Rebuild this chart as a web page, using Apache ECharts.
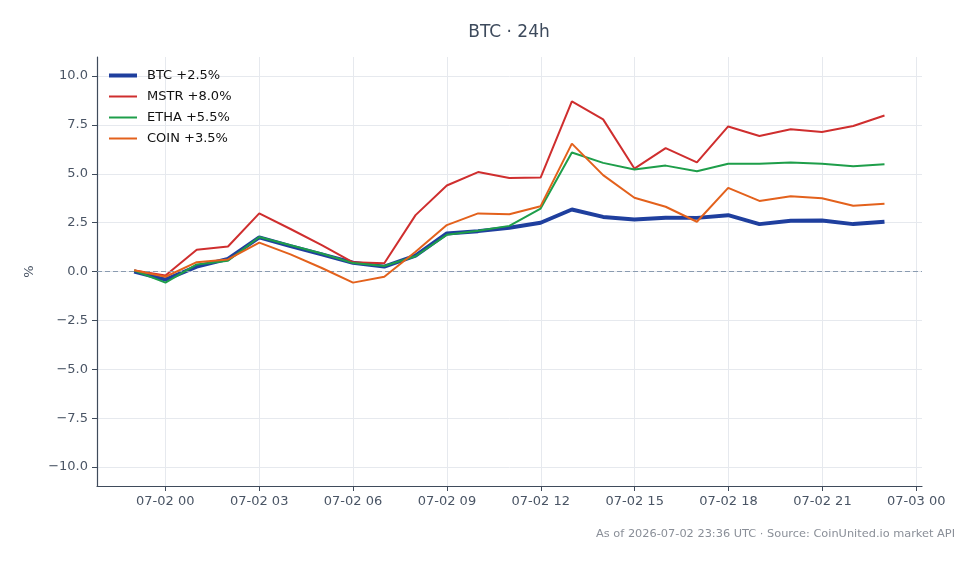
<!DOCTYPE html>
<html>
<head>
<meta charset="utf-8">
<script src="https://cdn.jsdelivr.net/npm/echarts@6/dist/echarts.min.js"></script>
<style>
  html, body { margin: 0; padding: 0; background: #fff; }
  #chart { width: 978px; height: 564px; }
</style>
</head>
<body>
<div id="chart"></div>
<script>
// hourly points, hours relative to 07-02 00:00 UTC
const hours = [-1, 0, 1, 2, 3, 4, 5, 6, 7, 8, 9, 10, 11, 12, 13, 14, 15, 16, 17, 18, 19, 20, 21, 22, 23]
const btc  = [0, -0.42, 0.25, 0.65, 1.75, 1.3, 0.88, 0.45, 0.25, 0.82, 1.95, 2.07, 2.24, 2.5, 3.18, 2.8, 2.67, 2.76, 2.75, 2.89, 2.43, 2.6, 2.62, 2.43, 2.55]
const mstr = [0.05, -0.2, 1.12, 1.28, 2.98, 2.18, 1.35, 0.47, 0.42, 2.89, 4.41, 5.1, 4.8, 4.82, 8.72, 7.8, 5.28, 6.33, 5.6, 7.44, 6.95, 7.29, 7.15, 7.46, 8.0]
const etha = [0.05, -0.57, 0.36, 0.55, 1.77, 1.35, 0.92, 0.43, 0.28, 0.78, 1.88, 2.09, 2.34, 3.23, 6.1, 5.57, 5.23, 5.43, 5.14, 5.53, 5.53, 5.59, 5.53, 5.4, 5.5]
const coin = [0.06, -0.27, 0.48, 0.62, 1.48, 0.88, 0.18, -0.57, -0.27, 1.01, 2.38, 2.98, 2.94, 3.35, 6.56, 4.94, 3.78, 3.32, 2.55, 4.29, 3.62, 3.86, 3.76, 3.37, 3.48]
const names = ['BTC +2.5%', 'MSTR +8.0%', 'ETHA +5.5%', 'COIN +3.5%']
const colors = ['#1f3f9e', '#cf2e2e', '#1e9e4a', '#e3611c']
const widths = [4, 2, 2, 2]
// x tick positions (hours) -> labels
const tickHours = [0, 3, 6, 9, 12, 15, 18, 21, 24]

const H = 3600 * 1000
const t0 = Date.UTC(2026, 6, 2, 0, 0, 0)
const pairs = (vals) => vals.map((v, i) => [hours[i], v])

const myChart = echarts.init(document.getElementById('chart'))
const textColor = '#4a5565'
const gridColor = '#e6e9ee'
const spineColor = '#3f4b5b'

const series = [btc, mstr, etha, coin].map((vals, i) => ({
    name: names[i],
    type: 'line',
    xAxisIndex: 0,
    yAxisIndex: 0,
    data: pairs(vals),
    symbol: 'none',
    showSymbol: false,
    lineStyle: { color: colors[i], width: widths[i] },
    itemStyle: { color: colors[i] },
    z: 3 + i,
    markLine: i === 0 ? {
        silent: true,
        symbol: 'none',
        label: { show: false },
        lineStyle: { color: '#8a9bb0', type: [5, 3], width: 1 },
        data: [{ yAxis: 0 }]
    } : undefined
}))

const option = {
    animation: false,
    backgroundColor: '#fff',
    textStyle: { fontFamily: 'DejaVu Sans' },
    title: [{
        text: 'BTC · 24h',
        left: 504, top: 19, textAlign: 'center',
        textStyle: { fontSize: 17, fontWeight: 'normal', color: '#3d4a5c', fontFamily: 'DejaVu Sans' }
    }, {
        text: 'As of 2026-07-02 23:36 UTC · Source: CoinUnited.io market API',
        right: 18, top: 524,
        textStyle: { fontSize: 11.35, fontWeight: 'normal', color: '#8a8f98', fontFamily: 'DejaVu Sans' }
    }],
    legend: {
        left: 102, top: 64,
        orient: 'vertical',
        itemGap: 8,
        itemWidth: 28, itemHeight: 13,
        itemStyle: { opacity: 0 },
        textStyle: { fontSize: 13, color: '#111', fontFamily: 'DejaVu Sans', padding: [0, 0, 0, 5] },
        data: names.map((n, i) => ({ name: n, lineStyle: { width: widths[i], color: colors[i] } }))
    },
    grid: [
        { left: 97, right: 56, top: 57, bottom: 78 },
        { left: 97, right: 56, top: 76, bottom: 97 },
        { left: 165.3, right: 61.7, top: 57, bottom: 78 }
    ],
    xAxis: [{
        gridIndex: 0,
        type: 'value',
        min: -2.19, max: 24.2,
        axisLine: { show: true, onZero: false, lineStyle: { color: spineColor, width: 1.2 } },
        axisTick: { show: false },
        axisLabel: { show: false },
        splitLine: { show: false }
    }, {
        gridIndex: 1,
        type: 'value',
        show: false,
        min: 0, max: 1
    }, {
        gridIndex: 2,
        type: 'value',
        min: 0, max: 24, interval: 3,
        axisLine: { show: false, onZero: false },
        axisTick: { show: true, length: 5, lineStyle: { color: spineColor } },
        axisLabel: {
            color: textColor, fontSize: 13, margin: 9,
            formatter: (v) => tickHours.includes(v) ? echarts.time.format(t0 + v * H, '{MM}-{dd} {HH}', true) : ''
        },
        splitLine: { show: true, lineStyle: { color: gridColor, width: 1 } }
    }],
    yAxis: [{
        gridIndex: 0,
        type: 'value',
        min: -11, max: 11,
        name: '%',
        nameLocation: 'middle',
        nameGap: 61,
        nameTextStyle: { color: textColor, fontSize: 13 },
        axisLine: { show: true, onZero: false, lineStyle: { color: spineColor, width: 1.2 } },
        axisTick: { show: false },
        axisLabel: { show: false },
        splitLine: { show: false }
    }, {
        gridIndex: 1,
        type: 'value',
        min: -10, max: 10, interval: 2.5,
        axisLine: { show: false, onZero: false },
        axisTick: { show: true, length: 5, lineStyle: { color: spineColor } },
        axisLabel: {
            color: textColor, fontSize: 13, margin: 9,
            formatter: (v) => (v < 0 ? '\u2212' + Math.abs(v).toFixed(1) : v.toFixed(1))
        },
        splitLine: { show: true, lineStyle: { color: gridColor, width: 1 } }
    }, {
        gridIndex: 2,
        type: 'value',
        show: false,
        min: 0, max: 1
    }],
    series: series
}
myChart.setOption(option)
</script>
</body>
</html>
